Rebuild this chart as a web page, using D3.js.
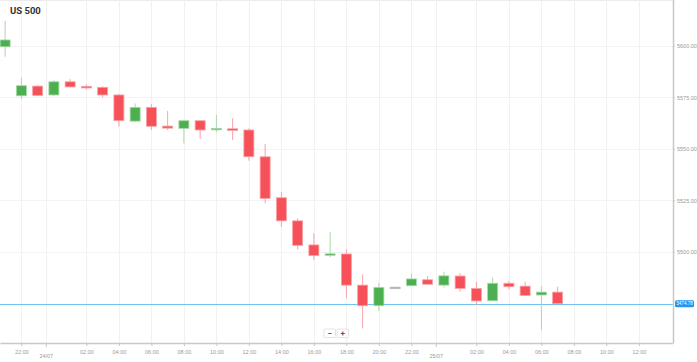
<!DOCTYPE html>
<html>
<head>
<meta charset="utf-8">
<script src="https://cdn.jsdelivr.net/npm/d3@7"></script>
<style>
  body { margin: 0; background: #fff; }
  svg { font-family: Roboto, "Open Sans", sans-serif; display: block; }
</style>
</head>
<body>
<div id="chart"></div>
<script>
// hourly candles, US 500
const times = [
  "2024-07-23 21:00","2024-07-23 22:00","2024-07-23 23:00","2024-07-24 00:00","2024-07-24 01:00",
  "2024-07-24 02:00","2024-07-24 03:00","2024-07-24 04:00","2024-07-24 05:00","2024-07-24 06:00",
  "2024-07-24 07:00","2024-07-24 08:00","2024-07-24 09:00","2024-07-24 10:00","2024-07-24 11:00",
  "2024-07-24 12:00","2024-07-24 13:00","2024-07-24 14:00","2024-07-24 15:00","2024-07-24 16:00",
  "2024-07-24 17:00","2024-07-24 18:00","2024-07-24 19:00","2024-07-24 20:00","2024-07-24 21:00",
  "2024-07-24 22:00","2024-07-24 23:00","2024-07-25 00:00","2024-07-25 01:00","2024-07-25 02:00",
  "2024-07-25 03:00","2024-07-25 04:00","2024-07-25 05:00","2024-07-25 06:00","2024-07-25 07:00"
];
const open  = [5599.5,5575.7,5580.4,5576.1,5582.5,5580.3,5579.8,5576.1,5563.4,5570.1,
               5561.0,5559.9,5563.6,5559.2,5559.7,5559.1,5546.1,5526.2,5515.0,5503.3,
               5498.4,5498.9,5483.8,5473.8,5482.8,5483.5,5486.4,5483.8,5488.2,5482.2,
               5476.2,5484.7,5483.3,5479.0,5480.4];
const high  = [5612.0,5584.5,5580.8,5583.2,5583.8,5581.3,5580.4,5576.6,5572.0,5571.7,
               5568.3,5563.6,5563.6,5566.4,5564.8,5559.9,5552.3,5529.1,5516.2,5509.0,
               5509.6,5501.2,5489.0,5484.9,5482.8,5489.5,5488.3,5490.3,5489.5,5485.4,
               5487.4,5485.9,5485.4,5483.3,5483.0];
const low   = [5594.7,5574.1,5575.5,5575.6,5579.9,5578.6,5574.9,5560.7,5563.1,5559.1,
               5559.1,5552.6,5554.7,5558.0,5554.2,5544.2,5523.5,5512.1,5501.2,5496.0,
               5497.3,5477.4,5462.8,5471.2,5482.8,5483.5,5484.2,5482.6,5480.6,5474.1,
               5476.2,5481.7,5478.8,5462.0,5474.6];
const close = [5602.8,5580.6,5575.9,5582.5,5580.0,5579.5,5576.1,5563.6,5570.1,5560.9,
               5560.0,5563.6,5559.1,5559.9,5558.9,5546.1,5525.9,5515.0,5503.1,5498.1,
               5499.0,5483.8,5473.8,5482.7,5482.8,5486.8,5484.2,5488.3,5482.2,5476.1,
               5484.7,5483.0,5478.8,5480.4,5474.78];
const yTicks = [5500, 5525, 5550, 5575, 5600];
const dateLabels = ["24/07", "25/07"];
const dateDays = ["2024-07-24", "2024-07-25"];
const lastPrice = 5474.78;
const title = "US 500";

const W = 697, H = 362;
const plotW = 673, plotH = 343;
const parse = d3.timeParse("%Y-%m-%d %H:%M");
const parseDay = d3.timeParse("%Y-%m-%d");

const data = times.map((t, i) => ({t: parse(t), o: open[i], h: high[i], l: low[i], c: close[i]}));

const svg = d3.select("#chart").append("svg")
  .attr("width", W).attr("height", H);

const x = d3.scaleTime()
  .domain([parse("2024-07-23 20:41"), parse("2024-07-25 14:06")])
  .range([0, plotW]);

const y = d3.scaleLinear()
  .domain([5455.7, 5622.2])
  .range([plotH, 0]);

// time ticks every 2h, midnight replaced by date label, none past 12:00 on the last day
const hourTicks = x.ticks(d3.timeHour.every(2))
  .filter(d => d.getHours() !== 0 && d <= parse("2024-07-25 12:00"));
const dateTicks = dateDays.map(d => d3.timeMinute.offset(parseDay(d), -30));

// top border
svg.append("line").attr("x1", 0).attr("x2", plotW).attr("y1", 0.5).attr("y2", 0.5)
  .attr("stroke", "#ececec");

// grid
const grid = svg.append("g");
grid.selectAll(".hg").data(yTicks).join("line")
  .attr("x1", 0).attr("x2", plotW)
  .attr("y1", d => Math.round(y(d)) + 0.5).attr("y2", d => Math.round(y(d)) + 0.5)
  .attr("stroke", "#f3f3f3");
grid.selectAll(".vg").data(hourTicks.concat(dateTicks)).join("line")
  .attr("x1", d => Math.round(x(d)) + 0.5).attr("x2", d => Math.round(x(d)) + 0.5)
  .attr("y1", 0).attr("y2", plotH)
  .attr("stroke", "#f1f1f1");

// title
svg.append("text").attr("x", 10).attr("y", 14).text(title)
  .style("font-size", "9.5px").style("font-weight", "bold").attr("fill", "#333");

// current price line
svg.append("line")
  .attr("x1", 0).attr("x2", plotW)
  .attr("y1", Math.round(y(lastPrice)) + 0.5).attr("y2", Math.round(y(lastPrice)) + 0.5)
  .attr("stroke", "#74c2f2").attr("stroke-width", 1);

// candles
const bw = 10;
const colorOf = d => d.c > d.o ? "#4caf50" : d.c < d.o ? "#f65158" : "#9e9e9e";
const wickOf = d => d.c > d.o ? "#a8d8a8" : d.c < d.o ? "#f7a3a7" : "#bdbdbd";

const candles = svg.append("g").selectAll("g").data(data).join("g");
candles.append("line")
  .attr("x1", d => x(d.t)).attr("x2", d => x(d.t))
  .attr("y1", d => y(d.h)).attr("y2", d => y(d.l))
  .attr("stroke", wickOf).attr("stroke-width", 1);
candles.append("rect")
  .attr("x", d => x(d.t) - bw / 2)
  .attr("width", bw)
  .attr("y", d => y(Math.max(d.o, d.c)))
  .attr("height", d => Math.max(1.5, Math.abs(y(d.o) - y(d.c))))
  .attr("fill", colorOf)
  .attr("stroke", wickOf).attr("stroke-width", 0.8);

// x axis
const xAxis = svg.append("g").attr("transform", `translate(0,${plotH})`)
  .call(d3.axisBottom(x).tickValues(hourTicks).tickFormat(d3.timeFormat("%H:%M")).tickSize(3).tickSizeOuter(0));
xAxis.select(".domain").attr("stroke", "#c8c8c8").attr("stroke-width", 1.5);
xAxis.selectAll(".tick line").attr("stroke", "#c8c8c8");
xAxis.selectAll("text").attr("fill", "#9a9a9a").style("font-size", "5.5px").attr("dy", "0.9em");

const dAxis = svg.append("g").attr("transform", `translate(0,${plotH})`)
  .call(d3.axisBottom(x).tickValues(dateTicks).tickFormat((d, i) => dateLabels[i]).tickSize(4).tickSizeOuter(0));
dAxis.select(".domain").remove();
dAxis.selectAll(".tick line").attr("stroke", "#c8c8c8");
dAxis.selectAll("text").attr("fill", "#9a9a9a").style("font-size", "5.5px").attr("y", 10).attr("dy", "0.9em");

// y axis on the right
const yAxis = svg.append("g").attr("transform", `translate(${plotW},0)`)
  .call(d3.axisRight(y).tickValues(yTicks).tickFormat(d3.format(".2f")).tickSize(2).tickSizeOuter(0));
yAxis.select(".domain").attr("stroke", "#c8c8c8").attr("stroke-width", 1.5)
  .attr("d", `M0.5,0V${plotH}`);
yAxis.selectAll(".tick line").attr("stroke", "#c8c8c8");
yAxis.selectAll("text").attr("fill", "#9a9a9a").style("font-size", "5.5px").attr("x", 4);

// last price tag
const tag = svg.append("g").attr("transform", `translate(675,${y(lastPrice)})`);
tag.append("rect").attr("x", 0).attr("y", -3.5).attr("width", 19).attr("height", 7).attr("rx", 1.5)
  .attr("fill", "#2196f3");
tag.append("text").attr("x", 9.5).attr("y", 0).attr("dy", "0.35em").attr("text-anchor", "middle")
  .text(d3.format(".2f")(lastPrice)).attr("fill", "#fff").style("font-size", "4.6px");

// zoom buttons
const btns = svg.append("g").attr("transform", "translate(324,329)");
["−", "+"].forEach((s, i) => {
  btns.append("rect").attr("x", i * 13).attr("y", 0).attr("width", 11.5).attr("height", 8.5).attr("rx", 1)
    .attr("fill", "#fff").attr("stroke", "#e4e4e4");
  btns.append("text").attr("x", i * 13 + 5.75).attr("y", 4.3).attr("dy", "0.35em")
    .attr("text-anchor", "middle").text(s).attr("fill", "#555")
    .style("font-size", "8px").style("font-weight", "bold");
});
</script>
</body>
</html>
